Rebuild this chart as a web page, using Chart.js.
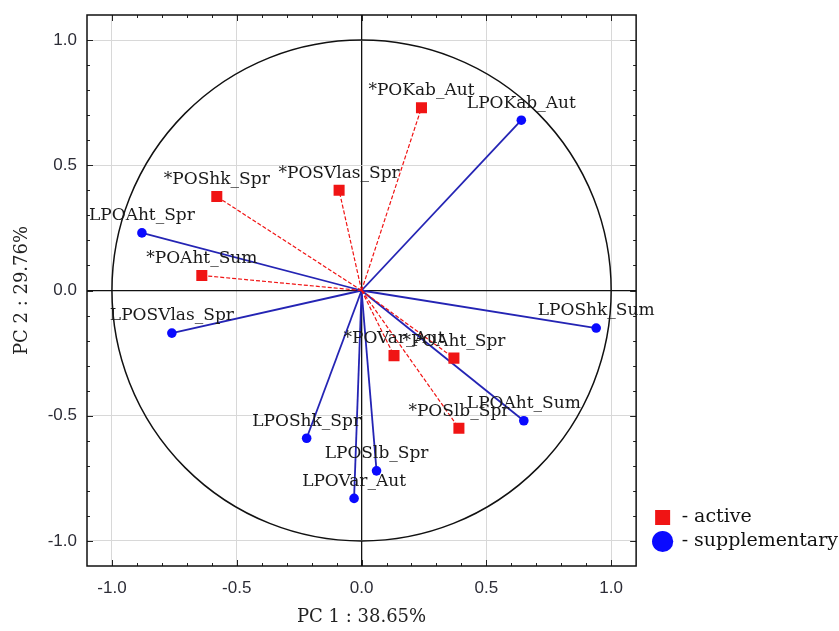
<!DOCTYPE html>
<html><head><meta charset="utf-8">
<script src="https://cdn.jsdelivr.net/npm/chart.js@4/dist/chart.umd.min.js"></script>
<style>html,body{margin:0;padding:0;background:#fff;}canvas{display:block;}</style>
</head><body>
<canvas id="c" width="839" height="631"></canvas>
<script>
// ---- data ----
const activeNames = ['*POKab_Aut','*POShk_Spr','*POSVlas_Spr','*POAht_Sum','*POVar_Aut','*POAht_Spr','*POSlb_Spr'];
const activeX = [0.24, -0.58, -0.09, -0.64, 0.13, 0.37, 0.39];
const activeY = [0.73, 0.375, 0.40, 0.06, -0.26, -0.27, -0.55];
const suppNames = ['LPOKab_Aut','LPOAht_Spr','LPOSVlas_Spr','LPOShk_Sum','LPOAht_Sum','LPOShk_Spr','LPOSlb_Spr','LPOVar_Aut'];
const suppX = [0.64, -0.88, -0.76, 0.94, 0.65, -0.22, 0.06, -0.03];
const suppY = [0.68, 0.23, -0.17, -0.15, -0.52, -0.59, -0.72, -0.83];
const axisTicks = [-1.0, -0.5, 0.0, 0.5, 1.0];
const xTitle = 'PC 1 : 38.65%';
const yTitle = 'PC 2 : 29.76%';
const legendTexts = ['- active', '- supplementary'];

// ---- styles ----
const RED = '#f01414', BLUE = '#0a0aff', BLUE_LINE = '#2424b4';
const SERIF = '"DejaVu Serif", serif';
const SANS = '"Liberation Sans", Arial, sans-serif';
const TICK_COLOR = '#2c2c36';

const activePts = activeX.map((x, i) => ({x, y: activeY[i]}));
const suppPts = suppX.map((x, i) => ({x, y: suppY[i]}));

const datasets = [];
datasets.push({data: activePts, pointStyle: 'rect', pointRadius: 7.8, backgroundColor: RED, borderColor: RED, borderWidth: 0, showLine: false, order: 1});
datasets.push({data: suppPts, pointStyle: 'circle', pointRadius: 4.8, backgroundColor: BLUE, borderColor: BLUE, borderWidth: 0, showLine: false, order: 0});
suppPts.forEach(p => datasets.push({data: [{x: 0, y: 0}, p], showLine: true, borderColor: BLUE_LINE, borderWidth: 1.8, pointRadius: 0, order: 3}));
activePts.forEach(p => datasets.push({data: [{x: 0, y: 0}, p], showLine: true, borderColor: RED, borderDash: [4, 2], borderWidth: 1.2, pointRadius: 0, order: 2}));

const labelSets = [[0, activeNames], [1, suppNames]];

const decor = {
  id: 'decor',
  afterLayout(chart) {
    const lg = chart.legend;
    if (lg) { lg.left += 12; lg.right += 12; lg.top -= 10; lg.bottom -= 10; }
  },
  beforeDatasetsDraw(chart) {
    const {ctx, chartArea: a, scales: {x, y}} = chart;
    ctx.save();
    // unit circle
    const cx = x.getPixelForValue(0), cy = y.getPixelForValue(0);
    const rx = x.getPixelForValue(1) - cx, ry = cy - y.getPixelForValue(1);
    ctx.beginPath();
    ctx.ellipse(cx, cy, rx, ry, 0, 0, Math.PI * 2);
    ctx.strokeStyle = '#111'; ctx.lineWidth = 1.5; ctx.stroke();
    // tick marks inside the frame
    ctx.strokeStyle = '#222'; ctx.lineWidth = 1;
    ctx.beginPath();
    for (let i = -10; i <= 10; i++) {
      const v = i / 10, len = (i % 5 === 0) ? 6 : 3;
      const px = Math.round(x.getPixelForValue(v)) + 0.5;
      const py = Math.round(y.getPixelForValue(v)) + 0.5;
      ctx.moveTo(px, a.bottom); ctx.lineTo(px, a.bottom - len);
      ctx.moveTo(px, a.top); ctx.lineTo(px, a.top + len);
      ctx.moveTo(a.left, py); ctx.lineTo(a.left + len, py);
      ctx.moveTo(a.right, py); ctx.lineTo(a.right - len, py);
    }
    ctx.stroke();
    // frame
    ctx.strokeStyle = '#111'; ctx.lineWidth = 1.5;
    ctx.strokeRect(a.left, a.top, a.right - a.left, a.bottom - a.top);
    ctx.restore();
  },
  afterDatasetsDraw(chart) {
    const ctx = chart.ctx;
    ctx.save();
    ctx.font = '17px ' + SERIF;
    ctx.fillStyle = '#1a1a1a';
    ctx.textAlign = 'center';
    ctx.textBaseline = 'middle';
    labelSets.forEach(([idx, names]) => {
      chart.getDatasetMeta(idx).data.forEach((el, i) => ctx.fillText(names[i], el.x, el.y - 17));
    });
    ctx.restore();
  }
};

const gridColor = c => (c.tick && c.tick.value === 0) ? '#111' : '#d8d8d8';
const gridWidth = c => (c.tick && c.tick.value === 0) ? 1.3 : 1;

new Chart(document.getElementById('c'), {
  type: 'scatter',
  data: {datasets},
  options: {
    responsive: false, animation: false, devicePixelRatio: 1, events: [],
    layout: {padding: {top: 15, right: 3, left: 0, bottom: 0}},
    plugins: {
      tooltip: {enabled: false},
      legend: {
        position: 'right', align: 'end', fullSize: false,
        labels: {
          usePointStyle: true, boxHeight: 15, padding: 5,
          font: {family: SERIF, size: 19}, color: '#111',
          generateLabels: () => [
            {text: legendTexts[0], pointStyle: 'rect', fillStyle: RED, strokeStyle: RED, lineWidth: 0, hidden: false, fontColor: '#111'},
            {text: legendTexts[1], pointStyle: 'circle', fillStyle: BLUE, strokeStyle: BLUE, lineWidth: 0, hidden: false, fontColor: '#111'}
          ]
        }
      }
    },
    scales: {
      x: {
        type: 'linear', min: -1.1, max: 1.1,
        afterBuildTicks: s => { s.ticks = axisTicks.map(v => ({value: v})); },
        afterFit: s => { s.height = 65; s.paddingLeft = 0; s.paddingRight = 0; },
        grid: {color: gridColor, lineWidth: gridWidth, drawTicks: false},
        border: {display: false},
        ticks: {font: {family: SANS, size: 17}, color: TICK_COLOR, padding: 12, maxRotation: 0, autoSkip: false, callback: v => v.toFixed(1)},
        title: {display: true, text: xTitle, font: {family: SERIF, size: 18}, color: '#222', padding: {top: 0, bottom: 3}}
      },
      y: {
        type: 'linear', min: -1.1, max: 1.1,
        afterBuildTicks: s => { s.ticks = axisTicks.map(v => ({value: v})); },
        afterFit: s => { s.width = 87; s.paddingTop = 0; s.paddingBottom = 0; },
        grid: {color: gridColor, lineWidth: gridWidth, drawTicks: false},
        border: {display: false},
        ticks: {font: {family: SANS, size: 17}, color: TICK_COLOR, padding: 10, autoSkip: false, callback: v => v.toFixed(1)},
        title: {display: true, text: yTitle, font: {family: SERIF, size: 18}, color: '#222', padding: {top: 12, bottom: 0}}
      }
    }
  },
  plugins: [decor]
});
</script>
</body></html>
